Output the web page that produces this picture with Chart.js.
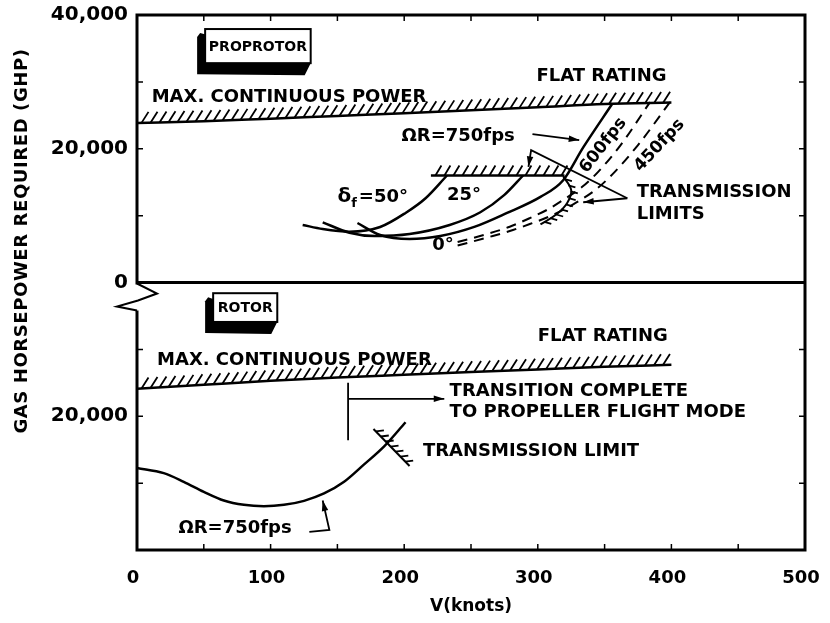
<!DOCTYPE html>
<html>
<head>
<meta charset="utf-8">
<script src="https://cdn.jsdelivr.net/npm/chart.js@4.4.1/dist/chart.umd.min.js"></script>
<style>
  html, body { margin: 0; padding: 0; background: #fff; }
</style>
</head>
<body>
<canvas id="myChart" width="830" height="623"></canvas>
<script>
// one y scale 0..80000: proprotor panel sits on top (value + 40000), rotor panel below
var upperOffset = 40000;

var xTicks = [0, 100, 200, 300, 400, 500];
var yTickLabels = {0: '', 20000: '20,000', 40000: '0', 60000: '20,000', 80000: '40,000'};

// proprotor panel (GHP)
var mcpUpKnots = [0, 50, 100, 150, 200, 250, 300, 350, 400];
var mcpUpGhp   = [23850, 24100, 24500, 24900, 25300, 25750, 26200, 26700, 26900];

var deg50Knots = [124, 139, 159, 182, 201, 216, 232];
var deg50Ghp   = [8600, 8000, 7600, 8300, 10400, 12600, 16000];

var deg25Knots = [139, 159, 178, 204, 234, 257, 275, 289];
var deg25Ghp   = [9000, 7450, 6950, 7250, 8600, 10500, 13100, 16000];

var deg0Knots = [165, 182, 204, 227, 253, 277, 302, 319, 334, 356];
var deg0Ghp   = [8900, 7100, 6500, 6950, 8350, 10400, 12800, 15300, 20200, 26800];

var fps600Knots = [240, 262, 279, 294, 308, 320, 333, 345, 362, 384];
var fps600Ghp   = [6050, 7240, 8340, 9630, 10980, 12480, 14270, 16510, 20550, 26980];

var fps450Knots = [240, 262, 279, 294, 311, 328, 343, 356, 375, 399];
var fps450Ghp   = [5520, 6720, 7690, 8740, 10080, 11880, 13820, 16210, 20550, 26980];

var limitUpKnots = [220, 320];
var limitUpGhp   = [16000, 16000];

var limitCurveKnots = [319, 325, 322, 314, 302];
var limitCurveGhp   = [15900, 13800, 11900, 10200, 8700];

// rotor panel (GHP)
var mcpLowKnots = [0, 50, 100, 150, 200, 250, 300, 350, 400];
var mcpLowGhp   = [24100, 24700, 25300, 25800, 26200, 26600, 27000, 27400, 27700];

var rotorKnots = [0, 20, 35, 50, 65, 80, 95, 110, 125, 140, 155, 170, 185, 201];
var rotorGhp   = [12260, 11500, 10200, 8700, 7400, 6750, 6550, 6750, 7350, 8450, 10200, 12800, 15500, 19100];

var limitLowKnots = [177, 204];
var limitLowGhp   = [18100, 12550];

var transitionKnots = 158;

function series(knots, ghp, offset) {
    return knots.map(function(k, i) { return {x: k, y: ghp[i] + offset}; });
}

var FONT = '"DejaVu Sans", sans-serif';

function line(data, extra) {
    var ds = {
        data: data, showLine: true, pointRadius: 0, borderColor: '#000',
        borderWidth: 2.5, cubicInterpolationMode: 'monotone', fill: false
    };
    for (var key in extra) ds[key] = extra[key];
    return ds;
}

var datasets = [
    line(series(mcpUpKnots, mcpUpGhp, upperOffset), {hatch: {spacing: 9, dx: 7, dy: -11}}),
    line(series(deg50Knots, deg50Ghp, upperOffset)),
    line(series(deg25Knots, deg25Ghp, upperOffset)),
    line(series(deg0Knots, deg0Ghp, upperOffset)),
    line(series(fps600Knots, fps600Ghp, upperOffset), {borderDash: [10, 7], borderWidth: 2}),
    line(series(fps450Knots, fps450Ghp, upperOffset), {borderDash: [10, 7], borderWidth: 2}),
    line(series(limitUpKnots, limitUpGhp, upperOffset), {hatch: {spacing: 9, dx: 6, dy: -10}}),
    line(series(limitCurveKnots, limitCurveGhp, upperOffset), {cubicInterpolationMode: 'default', tension: 0.4, borderWidth: 2, hatch: {spacing: 7, dx: 7, dy: 2}}),
    line(series(mcpLowKnots, mcpLowGhp, 0), {hatch: {spacing: 9, dx: 7, dy: -11}}),
    line(series(rotorKnots, rotorGhp, 0)),
    line(series(limitLowKnots, limitLowGhp, 0), {borderWidth: 2, hatch: {spacing: 7, dx: 8, dy: -1}})
];

function hatchPath(ctx, pts, h) {
    var acc = h.spacing / 2;
    ctx.beginPath();
    for (var i = 1; i < pts.length; i++) {
        var ax = pts[i - 1].x, ay = pts[i - 1].y, bx = pts[i].x, by = pts[i].y;
        var len = Math.hypot(bx - ax, by - ay);
        var t = acc;
        while (t <= len) {
            var px = ax + (bx - ax) * t / len, py = ay + (by - ay) * t / len;
            ctx.moveTo(px, py);
            ctx.lineTo(px + h.dx, py + h.dy);
            t += h.spacing;
        }
        acc = t - len;
    }
    ctx.stroke();
}

var decor = {
    id: 'decor',
    beforeDraw: function(chart) {
        var ctx = chart.ctx;
        ctx.save();
        ctx.fillStyle = '#fff';
        ctx.fillRect(0, 0, chart.width, chart.height);
        ctx.restore();
    },
    afterDatasetsDraw: function(chart) {
        var ctx = chart.ctx, a = chart.chartArea;
        var xs = chart.scales.x, ys = chart.scales.y;
        var X = function(k) { return xs.getPixelForValue(k); };
        var Y = function(v) { return ys.getPixelForValue(v); };
        ctx.save();
        ctx.strokeStyle = '#000';
        ctx.fillStyle = '#000';
        ctx.lineCap = 'butt';

        // hatching along limit lines
        ctx.lineWidth = 1.8;
        chart.data.datasets.forEach(function(ds, i) {
            if (!ds.hatch) return;
            var pts = chart.getDatasetMeta(i).data.map(function(p) { return {x: p.x, y: p.y}; });
            hatchPath(ctx, pts, ds.hatch);
        });

        // frame and panel divider
        ctx.lineWidth = 3;
        ctx.strokeRect(a.left, a.top, a.right - a.left, a.bottom - a.top);
        ctx.beginPath();
        ctx.moveTo(a.left, Y(40000));
        ctx.lineTo(a.right, Y(40000));
        ctx.stroke();

        // inward ticks
        ctx.lineWidth = 1.5;
        ctx.beginPath();
        for (var k = 50; k < 500; k += 50) {
            ctx.moveTo(X(k), a.bottom); ctx.lineTo(X(k), a.bottom - 6);
            ctx.moveTo(X(k), a.top); ctx.lineTo(X(k), a.top + 6);
        }
        for (var v = 10000; v < 80000; v += 10000) {
            if (v === 40000) continue;
            ctx.moveTo(a.left, Y(v)); ctx.lineTo(a.left + 6, Y(v));
            ctx.moveTo(a.right, Y(v)); ctx.lineTo(a.right - 6, Y(v));
        }
        ctx.stroke();

        // axis break
        var y0 = Y(40000);
        ctx.fillStyle = '#fff';
        ctx.fillRect(a.left - 3, y0 + 2, 6, 26);
        ctx.fillStyle = '#000';
        ctx.lineWidth = 2;
        ctx.beginPath();
        ctx.moveTo(a.left, y0 + 1);
        ctx.lineTo(a.left + 20, y0 + 11);
        ctx.lineTo(a.left + 1, y0 + 18);
        ctx.lineTo(a.left - 20, y0 + 24);
        ctx.lineTo(a.left, y0 + 28);
        ctx.stroke();

        // arrows
        function arrow(pts, head) {
            ctx.lineWidth = 1.8;
            ctx.beginPath();
            pts.forEach(function(p, i) {
                var px = X(p[0]), py = Y(p[1]);
                if (i === 0) ctx.moveTo(px, py); else ctx.lineTo(px, py);
            });
            ctx.stroke();
            if (head === false) return;
            var n = pts.length;
            var ex = X(pts[n - 1][0]), ey = Y(pts[n - 1][1]);
            var sx = X(pts[n - 2][0]), sy = Y(pts[n - 2][1]);
            var ang = Math.atan2(ey - sy, ex - sx);
            ctx.beginPath();
            ctx.moveTo(ex, ey);
            ctx.lineTo(ex - 11 * Math.cos(ang - 0.3), ey - 11 * Math.sin(ang - 0.3));
            ctx.lineTo(ex - 11 * Math.cos(ang + 0.3), ey - 11 * Math.sin(ang + 0.3));
            ctx.closePath();
            ctx.fill();
        }
        arrow([[296, 62200], [331, 61300]]);
        arrow([[367, 52600], [334, 52000]]);
        arrow([[367, 52600], [295, 59800], [293, 57300]]);
        arrow([[129, 2700], [144, 3000], [139, 7400]]);
        arrow([[transitionKnots, 25000], [transitionKnots, 16400]], false);
        arrow([[transitionKnots, 22600], [230, 22600]]);

        // boxed panel labels with a dark drop shadow
        function box(label, k0, k1, v0, v1) {
            var x0 = X(k0), x1 = X(k1), t = Y(v0), b = Y(v1);
            ctx.fillStyle = '#000';
            ctx.beginPath();
            ctx.moveTo(x0 - 5, t + 4);
            ctx.lineTo(x0 - 8, t + 8);
            ctx.lineTo(x0 - 8, b + 11);
            ctx.lineTo(x1 - 6, b + 12);
            ctx.lineTo(x1, b);
            ctx.closePath();
            ctx.fill();
            ctx.fillStyle = '#fff';
            ctx.fillRect(x0, t, x1 - x0, b - t);
            ctx.lineWidth = 2;
            ctx.strokeRect(x0, t, x1 - x0, b - t);
            ctx.fillStyle = '#000';
            ctx.font = 'bold 14px ' + FONT;
            ctx.textAlign = 'center';
            ctx.textBaseline = 'middle';
            ctx.fillText(label, (x0 + x1) / 2, (t + b) / 2 + 1);
        }
        box('PROPROTOR', 51, 130, 77900, 72800);
        box('ROTOR', 57, 105, 38400, 34100);

        // text notes
        function note(str, k, v, size, align, rot) {
            ctx.save();
            ctx.font = 'bold ' + (size || 18) + 'px ' + FONT;
            ctx.textAlign = align || 'left';
            ctx.textBaseline = 'middle';
            ctx.translate(X(k), Y(v));
            if (rot) ctx.rotate(rot * Math.PI / 180);
            ctx.fillText(str, 0, 0);
            ctx.restore();
        }
        note('MAX. CONTINUOUS POWER', 11, 67700);
        note('FLAT RATING', 299, 70900);
        note('\u03A9R=750fps', 198, 61900);
        note('25\u00B0', 232, 53000);
        note('0\u00B0', 221, 45500);
        note('600fps', 349, 60500, 17, 'center', -52);
        note('450fps', 391, 60500, 17, 'center', -47);
        note('TRANSMISSION', 374, 53500);
        note('LIMITS', 374, 50150);
        note('MAX. CONTINUOUS POWER', 15, 28400);
        note('FLAT RATING', 300, 32000);
        note('TRANSITION COMPLETE', 234, 23800);
        note('TO PROPELLER FLIGHT MODE', 234, 20650);
        note('TRANSMISSION LIMIT', 214, 14800);
        note('\u03A9R=750fps', 31, 3300);

        // delta-f label with subscript
        ctx.font = 'bold 20px ' + FONT;
        ctx.textAlign = 'left';
        ctx.textBaseline = 'alphabetic';
        var dx = X(150), dy = Y(52000);
        ctx.fillText('\u03B4', dx, dy);
        var w = ctx.measureText('\u03B4').width;
        ctx.font = 'bold 13px ' + FONT;
        ctx.fillText('f', dx + w, dy + 5);
        var w2 = ctx.measureText('f').width;
        ctx.font = 'bold 18px ' + FONT;
        ctx.fillText('=50\u00B0', dx + w + w2 + 2, dy);

        // y axis title
        ctx.save();
        ctx.font = 'bold 18px ' + FONT;
        ctx.letterSpacing = '0.6px';
        ctx.textAlign = 'center';
        ctx.textBaseline = 'middle';
        ctx.translate(22, 241);
        ctx.rotate(-Math.PI / 2);
        ctx.fillText('GAS HORSEPOWER REQUIRED (GHP)', 0, 0);
        ctx.restore();

        ctx.restore();
    }
};

var dataObj = {
    type: 'scatter',
    data: { datasets: datasets },
    options: {
        responsive: false,
        animation: false,
        devicePixelRatio: 1,
        layout: { padding: { left: 0, right: 25, top: 15, bottom: 0 } },
        plugins: { legend: { display: false }, tooltip: { enabled: false } },
        scales: {
            x: {
                type: 'linear', min: 0, max: 500,
                afterFit: function(s) { s.height = 73; s.paddingLeft = 0; s.paddingRight = 0; },
                afterBuildTicks: function(s) { s.ticks = xTicks.map(function(v) { return {value: v}; }); },
                grid: { display: false, drawTicks: false },
                border: { display: false },
                ticks: { padding: 18, labelOffset: -4, color: '#000', font: { family: FONT, weight: 'bold', size: 18 } },
                title: { display: true, text: 'V(knots)', color: '#000', font: { family: FONT, weight: 'bold', size: 17 }, padding: { top: 0, bottom: 6 } }
            },
            y: {
                min: 0, max: 80000,
                afterFit: function(s) { s.width = 137; s.paddingTop = 0; s.paddingBottom = 0; },
                grid: { display: false, drawTicks: false },
                border: { display: false },
                ticks: {
                    stepSize: 20000, padding: 9, color: '#000',
                    font: { family: FONT, weight: 'bold', size: 20 },
                    callback: function(v) { return yTickLabels[v]; }
                }
            }
        }
    },
    plugins: [decor]
};

var ctx = document.getElementById('myChart').getContext('2d');
window.myLine = new Chart(ctx, dataObj);
</script>
</body>
</html>
